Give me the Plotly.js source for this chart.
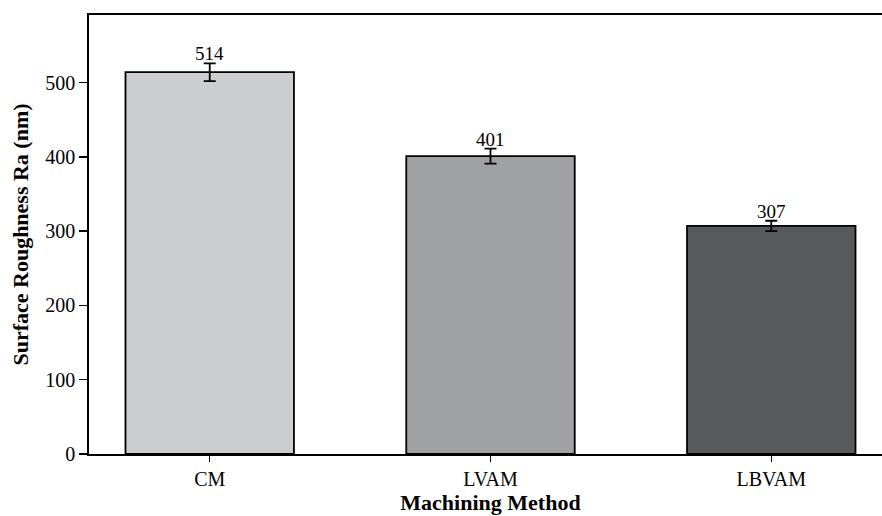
<!DOCTYPE html>
<html>
<head>
<meta charset="utf-8">
<script src="https://cdn.plot.ly/plotly-3.0.1.min.js"></script>
<style>
html, body { margin: 0; padding: 0; overflow: hidden; background: #ffffff; }
#chart { width: 895px; height: 516px; }
</style>
</head>
<body>
<div id="chart"></div>
<script>
const categories = ["CM", "LVAM", "LBVAM"];
const roughness = [514, 401, 307];
const errors = [12, 10, 7];
const barColors = ["#cbcdcf", "#a0a1a3", "#58595b"];

const font = "Liberation Serif, Times New Roman, serif";

const trace = {
  type: "bar",
  x: categories,
  y: roughness,
  width: 0.6,
  marker: { color: barColors, line: { color: "#000000", width: 1.8 } },
  error_y: { type: "data", array: errors, visible: true, color: "#000000", thickness: 1.8, width: 6 },
  hoverinfo: "skip"
};

const annotations = categories.map((c, i) => ({
  x: c, y: roughness[i] + errors[i], xref: "x", yref: "y",
  text: String(roughness[i]), showarrow: false, yanchor: "bottom", yshift: -3,
  font: { family: font, size: 19, color: "#000000" }
}));

const layout = {
  width: 895, height: 516,
  margin: { l: 89, r: 3, t: 15, b: 62 },
  paper_bgcolor: "#ffffff", plot_bgcolor: "#ffffff",
  showlegend: false,
  bargap: 0.4,
  xaxis: {
    type: "category", range: [-0.43, 2.43],
    showline: true, linecolor: "#000000", linewidth: 1.8, mirror: true,
    ticks: "outside", ticklen: 6, tickwidth: 1.5, tickcolor: "#000000",
    showgrid: false, zeroline: false,
    tickfont: { family: font, size: 20, color: "#000000" },
    title: { text: "<b>Machining Method</b>", font: { family: font, size: 22, color: "#000000" }, standoff: 6 }
  },
  yaxis: {
    range: [0, 591],
    tickvals: [0, 100, 200, 300, 400, 500],
    showline: true, linecolor: "#000000", linewidth: 1.8, mirror: true,
    ticks: "outside", ticklen: 8, tickwidth: 1.5, tickcolor: "#000000",
    showgrid: false, zeroline: false,
    tickfont: { family: font, size: 20, color: "#000000" },
    title: { text: "<b>Surface Roughness Ra (nm)</b>", font: { family: font, size: 22, color: "#000000" }, standoff: 10 }
  },
  annotations: annotations
};

Plotly.newPlot("chart", [trace], layout, { displayModeBar: false, staticPlot: true });
</script>
</body>
</html>
